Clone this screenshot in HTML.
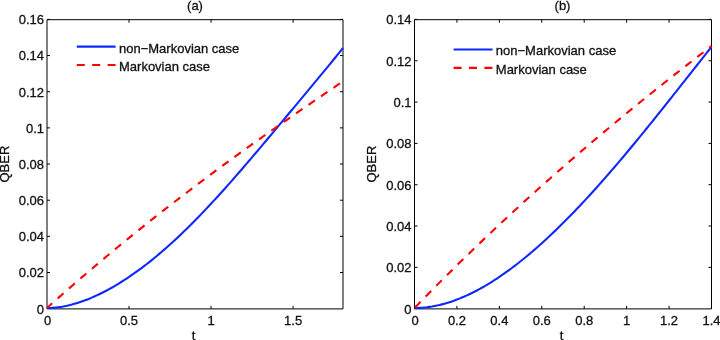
<!DOCTYPE html>
<html><head><meta charset="utf-8"><style>
html,body{margin:0;padding:0;background:#fff;}
body{width:720px;height:340px;overflow:hidden;}
.w{will-change:transform;width:720px;height:340px;}
svg{display:block;}
text{font-family:"Liberation Sans", sans-serif;font-size:13px;fill:#111;stroke:#111;stroke-width:0.3px;}
</style></head><body>
<div class="w"><svg width="720" height="340" viewBox="0 0 720 340">
<rect width="720" height="340" fill="#fff"/>
<path d="M47.0,19.7 H343.0 V308.9 H47.0 Z" fill="none" stroke="#000" stroke-width="1"/>
<path d="M129.00,308.9 V305.90 M129.00,19.7 V22.70 M211.05,308.9 V305.90 M211.05,19.7 V22.70 M293.10,308.9 V305.90 M293.10,19.7 V22.70 M47.0,272.54 H50.00 M343.0,272.54 H340.00 M47.0,236.38 H50.00 M343.0,236.38 H340.00 M47.0,200.21 H50.00 M343.0,200.21 H340.00 M47.0,164.05 H50.00 M343.0,164.05 H340.00 M47.0,127.89 H50.00 M343.0,127.89 H340.00 M47.0,91.72 H50.00 M343.0,91.72 H340.00 M47.0,55.56 H50.00 M343.0,55.56 H340.00 M47.0,19.40 H50.00 M343.0,19.40 H340.00 " fill="none" stroke="#000" stroke-width="1"/>
<text x="47.55" y="324.50" text-anchor="middle">0</text>
<text x="129.00" y="324.50" text-anchor="middle">0.5</text>
<text x="211.05" y="324.50" text-anchor="middle">1</text>
<text x="293.10" y="324.50" text-anchor="middle">1.5</text>
<text x="44.0" y="313.50" text-anchor="end">0</text>
<text x="44.0" y="277.34" text-anchor="end">0.02</text>
<text x="44.0" y="241.18" text-anchor="end">0.04</text>
<text x="44.0" y="205.01" text-anchor="end">0.06</text>
<text x="44.0" y="168.85" text-anchor="end">0.08</text>
<text x="44.0" y="132.69" text-anchor="end">0.1</text>
<text x="44.0" y="96.52" text-anchor="end">0.12</text>
<text x="44.0" y="60.36" text-anchor="end">0.14</text>
<text x="44.0" y="24.20" text-anchor="end">0.16</text>
<path d="M47.00,308.00 L49.49,307.96 L51.97,307.85 L54.46,307.67 L56.95,307.41 L59.44,307.09 L61.92,306.70 L64.41,306.25 L66.90,305.74 L69.39,305.17 L71.87,304.55 L74.36,303.86 L76.85,303.13 L79.34,302.33 L81.82,301.49 L84.31,300.60 L86.80,299.66 L89.29,298.66 L91.77,297.63 L94.26,296.54 L96.75,295.41 L99.24,294.23 L101.72,293.02 L104.21,291.75 L106.70,290.45 L109.18,289.10 L111.67,287.71 L114.16,286.29 L116.65,284.82 L119.13,283.31 L121.62,281.76 L124.11,280.18 L126.60,278.55 L129.08,276.89 L131.57,275.20 L134.06,273.46 L136.55,271.69 L139.03,269.88 L141.52,268.04 L144.01,266.16 L146.50,264.24 L148.98,262.30 L151.47,260.31 L153.96,258.30 L156.45,256.25 L158.93,254.16 L161.42,252.05 L163.91,249.90 L166.39,247.72 L168.88,245.51 L171.37,243.26 L173.86,240.99 L176.34,238.69 L178.83,236.36 L181.32,233.99 L183.81,231.60 L186.29,229.19 L188.78,226.74 L191.27,224.27 L193.76,221.77 L196.24,219.24 L198.73,216.69 L201.22,214.12 L203.71,211.52 L206.19,208.90 L208.68,206.26 L211.17,203.59 L213.66,200.91 L216.14,198.20 L218.63,195.47 L221.12,192.73 L223.61,189.97 L226.09,187.19 L228.58,184.39 L231.07,181.58 L233.55,178.75 L236.04,175.91 L238.53,173.05 L241.02,170.19 L243.50,167.31 L245.99,164.42 L248.48,161.52 L250.97,158.60 L253.45,155.69 L255.94,152.76 L258.43,149.82 L260.92,146.88 L263.40,143.93 L265.89,140.98 L268.38,138.02 L270.87,135.06 L273.35,132.10 L275.84,129.13 L278.33,126.16 L280.82,123.18 L283.30,120.21 L285.79,117.23 L288.28,114.25 L290.76,111.28 L293.25,108.30 L295.74,105.31 L298.23,102.33 L300.71,99.35 L303.20,96.37 L305.69,93.38 L308.18,90.39 L310.66,87.41 L313.15,84.41 L315.64,81.42 L318.13,78.42 L320.61,75.42 L323.10,72.41 L325.59,69.39 L328.08,66.37 L330.56,63.33 L333.05,60.29 L335.54,57.23 L338.03,54.16 L340.51,51.07 L343.00,47.96" fill="none" stroke="#0f28ff" stroke-width="2.1" stroke-linejoin="round"/>
<path d="M47.00,308.00 L49.49,305.76 L51.97,303.53 L54.46,301.31 L56.95,299.10 L59.44,296.89 L61.92,294.69 L64.41,292.49 L66.90,290.31 L69.39,288.13 L71.87,285.96 L74.36,283.79 L76.85,281.63 L79.34,279.48 L81.82,277.34 L84.31,275.20 L86.80,273.07 L89.29,270.95 L91.77,268.83 L94.26,266.72 L96.75,264.61 L99.24,262.52 L101.72,260.43 L104.21,258.34 L106.70,256.26 L109.18,254.19 L111.67,252.13 L114.16,250.07 L116.65,248.01 L119.13,245.97 L121.62,243.92 L124.11,241.89 L126.60,239.86 L129.08,237.84 L131.57,235.82 L134.06,233.81 L136.55,231.80 L139.03,229.81 L141.52,227.81 L144.01,225.82 L146.50,223.84 L148.98,221.87 L151.47,219.89 L153.96,217.93 L156.45,215.97 L158.93,214.01 L161.42,212.07 L163.91,210.12 L166.39,208.18 L168.88,206.25 L171.37,204.32 L173.86,202.40 L176.34,200.48 L178.83,198.57 L181.32,196.66 L183.81,194.76 L186.29,192.86 L188.78,190.97 L191.27,189.08 L193.76,187.20 L196.24,185.32 L198.73,183.45 L201.22,181.58 L203.71,179.72 L206.19,177.86 L208.68,176.00 L211.17,174.15 L213.66,172.31 L216.14,170.46 L218.63,168.63 L221.12,166.80 L223.61,164.97 L226.09,163.14 L228.58,161.32 L231.07,159.51 L233.55,157.70 L236.04,155.89 L238.53,154.09 L241.02,152.29 L243.50,150.49 L245.99,148.70 L248.48,146.91 L250.97,145.13 L253.45,143.35 L255.94,141.57 L258.43,139.80 L260.92,138.03 L263.40,136.26 L265.89,134.50 L268.38,132.74 L270.87,130.99 L273.35,129.24 L275.84,127.49 L278.33,125.74 L280.82,124.00 L283.30,122.26 L285.79,120.53 L288.28,118.79 L290.76,117.07 L293.25,115.34 L295.74,113.62 L298.23,111.90 L300.71,110.18 L303.20,108.47 L305.69,106.75 L308.18,105.05 L310.66,103.34 L313.15,101.64 L315.64,99.94 L318.13,98.24 L320.61,96.54 L323.10,94.85 L325.59,93.16 L328.08,91.47 L330.56,89.79 L333.05,88.10 L335.54,86.42 L338.03,84.74 L340.51,83.07 L343.00,81.39" fill="none" stroke="#ff0000" stroke-width="2.1" stroke-dasharray="7.8,7.3" stroke-dashoffset="0.8" stroke-linejoin="round"/>
<text x="195.0" y="9.7" text-anchor="middle">(a)</text>
<text x="193.5" y="339.5" text-anchor="middle">t</text>
<text transform="translate(9.3,164.1) rotate(-90)" text-anchor="middle">QBER</text>
<line x1="76.8" y1="46.6" x2="115.6" y2="46.6" stroke="#0f28ff" stroke-width="2.1"/>
<line x1="76.8" y1="65.0" x2="115.6" y2="65.0" stroke="#ff0000" stroke-width="2.1" stroke-dasharray="8,7.4"/>
<text x="119.0" y="52.5">non−Markovian case</text>
<text x="119.0" y="70.9">Markovian case</text>
<path d="M414.5,19.7 H711.5 V308.9 H414.5 Z" fill="none" stroke="#000" stroke-width="1"/>
<path d="M456.93,308.9 V305.90 M456.93,19.7 V22.70 M499.36,308.9 V305.90 M499.36,19.7 V22.70 M541.78,308.9 V305.90 M541.78,19.7 V22.70 M584.21,308.9 V305.90 M584.21,19.7 V22.70 M626.64,308.9 V305.90 M626.64,19.7 V22.70 M669.07,308.9 V305.90 M669.07,19.7 V22.70 M414.5,267.37 H417.50 M711.5,267.37 H708.50 M414.5,226.04 H417.50 M711.5,226.04 H708.50 M414.5,184.71 H417.50 M711.5,184.71 H708.50 M414.5,143.39 H417.50 M711.5,143.39 H708.50 M414.5,102.06 H417.50 M711.5,102.06 H708.50 M414.5,60.73 H417.50 M711.5,60.73 H708.50 M414.5,19.40 H417.50 M711.5,19.40 H708.50 " fill="none" stroke="#000" stroke-width="1"/>
<text x="415.10" y="324.50" text-anchor="middle">0</text>
<text x="456.93" y="324.50" text-anchor="middle">0.2</text>
<text x="499.36" y="324.50" text-anchor="middle">0.4</text>
<text x="541.78" y="324.50" text-anchor="middle">0.6</text>
<text x="584.21" y="324.50" text-anchor="middle">0.8</text>
<text x="626.64" y="324.50" text-anchor="middle">1</text>
<text x="669.07" y="324.50" text-anchor="middle">1.2</text>
<text x="711.50" y="324.50" text-anchor="middle">1.4</text>
<text x="411.5" y="313.50" text-anchor="end">0</text>
<text x="411.5" y="272.17" text-anchor="end">0.02</text>
<text x="411.5" y="230.84" text-anchor="end">0.04</text>
<text x="411.5" y="189.51" text-anchor="end">0.06</text>
<text x="411.5" y="148.19" text-anchor="end">0.08</text>
<text x="411.5" y="106.86" text-anchor="end">0.1</text>
<text x="411.5" y="65.53" text-anchor="end">0.12</text>
<text x="411.5" y="24.20" text-anchor="end">0.14</text>
<path d="M414.50,308.00 L417.00,307.97 L419.49,307.87 L421.99,307.72 L424.48,307.50 L426.98,307.23 L429.47,306.89 L431.97,306.50 L434.47,306.05 L436.96,305.55 L439.46,304.99 L441.95,304.37 L444.45,303.70 L446.95,302.98 L449.44,302.21 L451.94,301.38 L454.43,300.51 L456.93,299.58 L459.42,298.61 L461.92,297.59 L464.42,296.52 L466.91,295.40 L469.41,294.24 L471.90,293.03 L474.40,291.78 L476.89,290.48 L479.39,289.14 L481.89,287.75 L484.38,286.33 L486.88,284.86 L489.37,283.35 L491.87,281.80 L494.37,280.22 L496.86,278.59 L499.36,276.92 L501.85,275.22 L504.35,273.48 L506.84,271.70 L509.34,269.88 L511.84,268.03 L514.33,266.15 L516.83,264.23 L519.32,262.28 L521.82,260.29 L524.32,258.27 L526.81,256.21 L529.31,254.13 L531.80,252.01 L534.30,249.86 L536.79,247.68 L539.29,245.47 L541.79,243.24 L544.28,240.97 L546.78,238.67 L549.27,236.35 L551.77,234.00 L554.26,231.62 L556.76,229.21 L559.26,226.78 L561.75,224.32 L564.25,221.83 L566.74,219.32 L569.24,216.79 L571.74,214.23 L574.23,211.65 L576.73,209.05 L579.22,206.42 L581.72,203.77 L584.21,201.10 L586.71,198.40 L589.21,195.69 L591.70,192.96 L594.20,190.20 L596.69,187.43 L599.19,184.63 L601.68,181.82 L604.18,178.99 L606.68,176.14 L609.17,173.28 L611.67,170.39 L614.16,167.49 L616.66,164.58 L619.16,161.65 L621.65,158.70 L624.15,155.74 L626.64,152.76 L629.14,149.77 L631.63,146.77 L634.13,143.76 L636.63,140.73 L639.12,137.69 L641.62,134.64 L644.11,131.58 L646.61,128.51 L649.11,125.43 L651.60,122.34 L654.10,119.24 L656.59,116.13 L659.09,113.01 L661.58,109.89 L664.08,106.76 L666.58,103.63 L669.07,100.49 L671.57,97.34 L674.06,94.19 L676.56,91.04 L679.05,87.88 L681.55,84.72 L684.05,81.56 L686.54,78.40 L689.04,75.23 L691.53,72.07 L694.03,68.91 L696.53,65.75 L699.02,62.59 L701.52,59.43 L704.01,56.28 L706.51,53.13 L709.00,49.98 L711.50,46.84" fill="none" stroke="#0f28ff" stroke-width="2.1" stroke-linejoin="round"/>
<path d="M414.50,307.99 L417.00,305.42 L419.49,302.86 L421.99,300.30 L424.48,297.75 L426.98,295.21 L429.47,292.68 L431.97,290.15 L434.47,287.63 L436.96,285.12 L439.46,282.62 L441.95,280.12 L444.45,277.63 L446.95,275.15 L449.44,272.67 L451.94,270.21 L454.43,267.74 L456.93,265.29 L459.42,262.84 L461.92,260.40 L464.42,257.97 L466.91,255.55 L469.41,253.13 L471.90,250.71 L474.40,248.31 L476.89,245.91 L479.39,243.52 L481.89,241.13 L484.38,238.76 L486.88,236.39 L489.37,234.02 L491.87,231.66 L494.37,229.31 L496.86,226.97 L499.36,224.63 L501.85,222.30 L504.35,219.97 L506.84,217.65 L509.34,215.34 L511.84,213.03 L514.33,210.73 L516.83,208.44 L519.32,206.15 L521.82,203.87 L524.32,201.59 L526.81,199.32 L529.31,197.06 L531.80,194.80 L534.30,192.55 L536.79,190.31 L539.29,188.07 L541.79,185.84 L544.28,183.61 L546.78,181.39 L549.27,179.17 L551.77,176.97 L554.26,174.76 L556.76,172.56 L559.26,170.37 L561.75,168.19 L564.25,166.00 L566.74,163.83 L569.24,161.66 L571.74,159.50 L574.23,157.34 L576.73,155.18 L579.22,153.04 L581.72,150.89 L584.21,148.76 L586.71,146.63 L589.21,144.50 L591.70,142.38 L594.20,140.26 L596.69,138.15 L599.19,136.05 L601.68,133.95 L604.18,131.85 L606.68,129.76 L609.17,127.68 L611.67,125.60 L614.16,123.52 L616.66,121.45 L619.16,119.39 L621.65,117.33 L624.15,115.27 L626.64,113.22 L629.14,111.17 L631.63,109.13 L634.13,107.10 L636.63,105.07 L639.12,103.04 L641.62,101.02 L644.11,99.00 L646.61,96.98 L649.11,94.98 L651.60,92.97 L654.10,90.97 L656.59,88.98 L659.09,86.98 L661.58,85.00 L664.08,83.01 L666.58,81.04 L669.07,79.06 L671.57,77.09 L674.06,75.13 L676.56,73.16 L679.05,71.21 L681.55,69.25 L684.05,67.30 L686.54,65.36 L689.04,63.42 L691.53,61.48 L694.03,59.55 L696.53,57.62 L699.02,55.69 L701.52,53.77 L704.01,51.85 L706.51,49.93 L709.00,48.02 L711.50,46.12" fill="none" stroke="#ff0000" stroke-width="2.1" stroke-dasharray="7.8,7.3" stroke-dashoffset="-0.9" stroke-linejoin="round"/>
<text x="562.5" y="9.7" text-anchor="middle">(b)</text>
<text x="561.5" y="339.5" text-anchor="middle">t</text>
<text transform="translate(375.8,164.1) rotate(-90)" text-anchor="middle">QBER</text>
<line x1="453.6" y1="49.5" x2="492.6" y2="49.5" stroke="#0f28ff" stroke-width="2.1"/>
<line x1="453.6" y1="67.9" x2="492.6" y2="67.9" stroke="#ff0000" stroke-width="2.1" stroke-dasharray="8,7.4"/>
<text x="495.8" y="55.4">non−Markovian case</text>
<text x="495.8" y="73.8">Markovian case</text>
</svg></div>
</body></html>
